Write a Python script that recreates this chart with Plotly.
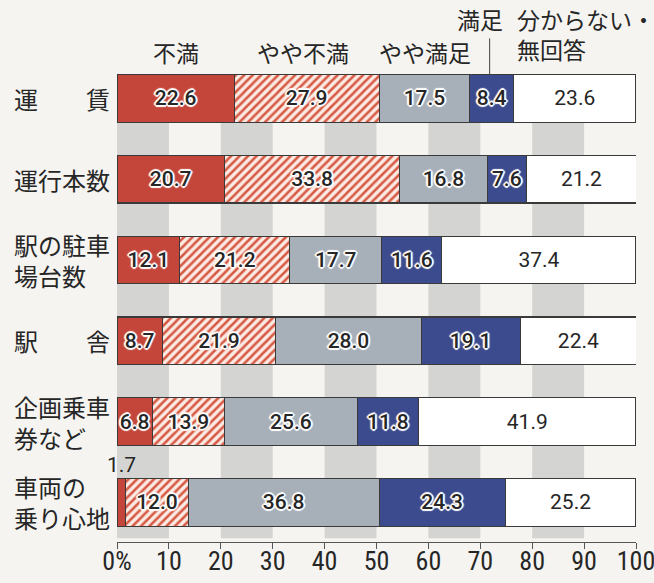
import plotly.graph_objects as go

# ---- data ----
rows = ["運賃", "運行本数", "駅の駐車場台数", "駅舎", "企画乗車券など", "車両の乗り心地"]
row_labels = ["運　　賃", "運行本数", "駅の駐車<br>場台数", "駅　　舎",
              "企画乗車<br>券など", "車両の<br>乗り心地"]
series_names = ["不満", "やや不満", "やや満足", "満足", "分からない・無回答"]
fuman = [22.6, 20.7, 12.1, 8.7, 6.8, 1.7]
yaya_fuman = [27.9, 33.8, 21.2, 21.9, 13.9, 12.0]
yaya_manzoku = [17.5, 16.8, 17.7, 28.0, 25.6, 36.8]
manzoku = [8.4, 7.6, 11.6, 19.1, 11.8, 24.3]
wakaranai = [23.6, 21.2, 37.4, 22.4, 41.9, 25.2]
x_ticks = [0, 10, 20, 30, 40, 50, 60, 70, 80, 90, 100]
x_ticktext = ["0%", "10", "20", "30", "40", "50", "60", "70", "80", "90", "100"]

series = [fuman, yaya_fuman, yaya_manzoku, manzoku, wakaranai]

# ---- styles ----
W, H = 654, 583
L, R, T, B = 116.7, 18.3, 57.6, 41.3
plot_h = H - T - B
CJK = "Noto Sans CJK JP"
NUM = "Roboto, Noto Sans, sans-serif"
TICKF = "Liberation Sans Narrow, Arial Narrow, Roboto Condensed, Roboto, sans-serif"
TXT = "#262626"
halo = ("2px 0 1px #fff, -2px 0 1px #fff, 0 2px 1px #fff, 0 -2px 1px #fff, "
        "1px 1px 1px #fff, -1px -1px 1px #fff, 1px -1px 1px #fff, -1px 1px 1px #fff")
colors = ["#c4463a", None, "#a7b0b9", "#3c4b8d", "#ffffff"]

fig = go.Figure()
for i, (name, vals) in enumerate(zip(series_names, series)):
    texts = [f"{v:.1f}" if v >= 3 else "" for v in vals]
    marker = dict(line=dict(color="#3a3a3a", width=1.1))
    if i == 1:
        marker.update(color="#fbeae3",
                      pattern=dict(shape="/", fgcolor="#d65a44", bgcolor="#fbeae3",
                                   size=6, solidity=0.42, fillmode="replace"))
    else:
        marker.update(color=colors[i])
    fig.add_trace(go.Bar(
        y=rows, x=vals, orientation="h", name=name, marker=marker,
        text=texts, textposition="inside", insidetextanchor="middle",
        textangle=0, constraintext="none",
        textfont=dict(family=NUM, size=21, color=TXT,
                      weight=(500 if i < 4 else 400),
                      shadow=(halo if i < 4 else "none")),
        width=0.59, hoverinfo="skip",
    ))

# background stripes between gridlines (0-10, 20-30, ...)
shapes = []
for k in range(0, 100, 20):
    shapes.append(dict(type="rect", xref="x", yref="paper", x0=k, x1=k + 10,
                       y0=0.008, y1=0.92, fillcolor="#d4d4d2", line=dict(width=0),
                       layer="below"))


def paper_y(py):
    return (H - B - py) / plot_h


# leader line for 満足
c_manzoku = fuman[0] + yaya_fuman[0] + yaya_manzoku[0] + manzoku[0] / 2
shapes.append(dict(type="line", xref="x", yref="paper", x0=c_manzoku - 0.4, x1=c_manzoku - 0.4,
                   y0=paper_y(74), y1=paper_y(38), line=dict(color="#444", width=1)))

annotations = []
# category labels
for r, lab in zip(rows, row_labels):
    annotations.append(dict(xref="paper", yref="y", x=(12 - L) / (W - L - R), y=r,
                            xanchor="left", yanchor="middle", align="left", text=lab,
                            showarrow=False, font=dict(family=CJK, size=24, color=TXT)))

# series headers
c0 = fuman[0] / 2
c1 = fuman[0] + yaya_fuman[0] / 2 - 0.8
c2 = fuman[0] + yaya_fuman[0] + yaya_manzoku[0] / 2
for txt, xc in [("不満", c0), ("やや不満", c1), ("やや満足", c2)]:
    annotations.append(dict(xref="x", yref="paper", x=xc, y=paper_y(52), text=txt,
                            showarrow=False, xanchor="center", yanchor="middle",
                            font=dict(family=CJK, size=23, color=TXT)))
annotations.append(dict(xref="x", yref="paper", x=69.9, y=paper_y(19), text="満足",
                        showarrow=False, xanchor="center", yanchor="middle",
                        font=dict(family=CJK, size=23, color=TXT)))
annotations.append(dict(xref="x", yref="paper", x=76.7, y=paper_y(34),
                        text="分からない・<br>無回答", align="left",
                        showarrow=False, xanchor="left", yanchor="middle",
                        font=dict(family=CJK, size=23, color=TXT)))

# small value above last bar
annotations.append(dict(xref="x", yref="y", x=fuman[5] / 2, y=rows[5], yshift=37,
                        text=f"{fuman[5]:.1f}", showarrow=False, xanchor="center",
                        yanchor="middle", font=dict(family=NUM, size=21, color=TXT)))

fig.update_layout(
    width=W, height=H, barmode="stack", showlegend=False,
    margin=dict(l=L, r=R, t=T, b=B, pad=0),
    paper_bgcolor="#f5f4f0", plot_bgcolor="rgba(0,0,0,0)",
    shapes=shapes, annotations=annotations,
    uniformtext=dict(minsize=21, mode="show"),
    xaxis=dict(range=[0, 100], tickvals=x_ticks, ticktext=x_ticktext, showgrid=False,
               zeroline=False, showline=True, linecolor="#555", linewidth=1.2,
               ticks="outside", ticklen=6, tickcolor="#555", tickwidth=1.2,
               ticklabelstandoff=-10, ticklabeloverflow="allow",
               tickfont=dict(family=TICKF, size=26, color=TXT), automargin=False,
               fixedrange=True),
    yaxis=dict(categoryorder="array", categoryarray=rows, range=[5.49, -0.5],
               showticklabels=False, showgrid=False, zeroline=False, showline=False,
               ticks="", automargin=False, fixedrange=True),
)

fig.write_html("out.html")
